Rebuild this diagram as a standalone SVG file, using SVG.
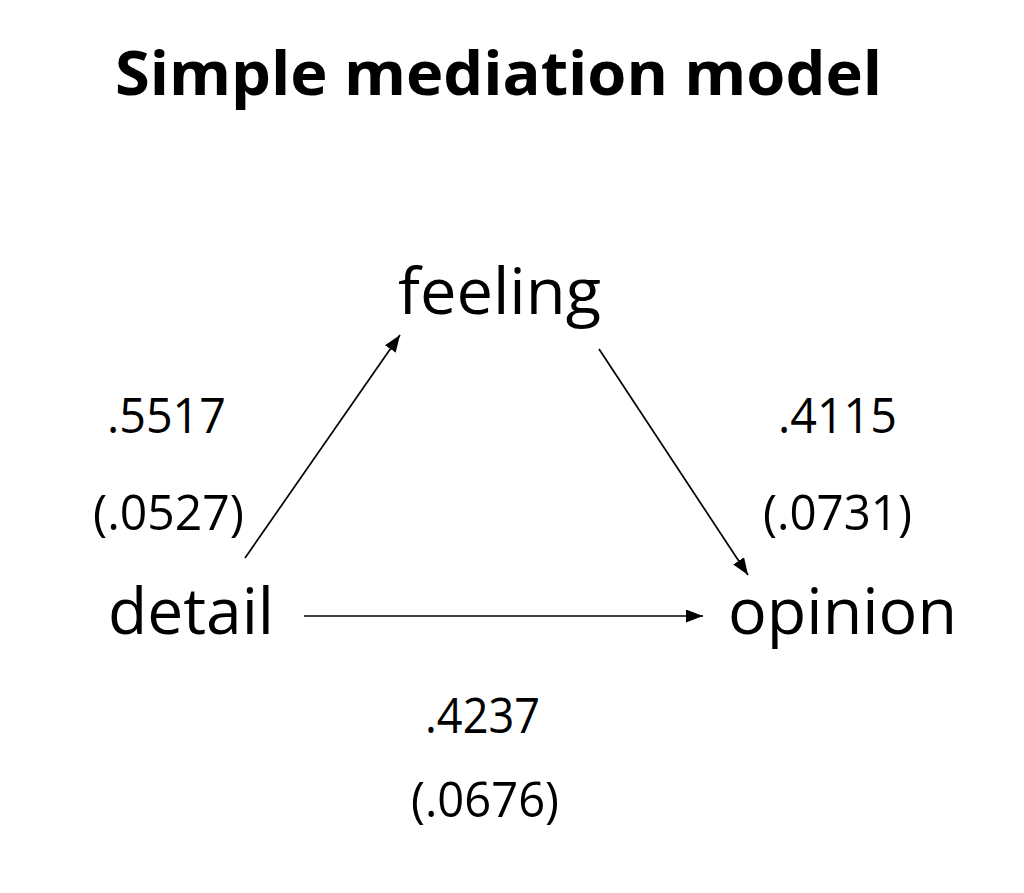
<svg xmlns="http://www.w3.org/2000/svg" width="1024" height="893" viewBox="0 0 1024 893">
<style>
.t{font-family:"Open Sans","Liberation Sans",sans-serif;fill:#000}
.title{font-size:60px;font-weight:bold}
.lbl{font-size:64px}
.num{font-size:49px}
.edge{stroke:#000;stroke-width:1.7;fill:none}
</style>
<defs>
<marker id="a" viewBox="0 0 17 13" refX="17" refY="6.5" markerWidth="17" markerHeight="13" markerUnits="userSpaceOnUse" orient="auto">
<path d="M0,0 L17,6.5 L0,13 Z" fill="#000"/>
</marker>
</defs>
<rect width="1024" height="893" fill="#fff"/>
<text class="t title" x="115" y="95" textLength="767" lengthAdjust="spacingAndGlyphs">Simple mediation model</text>
<g id="connectors">
<line class="edge" x1="245" y1="558" x2="400" y2="335" marker-end="url(#a)"/>
<line class="edge" x1="599" y1="349" x2="748" y2="575" marker-end="url(#a)"/>
<line class="edge" x1="304" y1="616" x2="703" y2="616" marker-end="url(#a)"/>
</g>
<g id="feeling"><text class="t lbl" x="398" y="314" textLength="203" lengthAdjust="spacingAndGlyphs">feeling</text></g>
<g id="detail"><text class="t lbl" x="108" y="634" textLength="166" lengthAdjust="spacingAndGlyphs">detail</text></g>
<g id="opinion"><text class="t lbl" x="728" y="634" textLength="229" lengthAdjust="spacingAndGlyphs">opinion</text></g>
<g id="label-a">
<text class="t num" x="107" y="433" textLength="119" lengthAdjust="spacingAndGlyphs">.5517</text>
<text class="t num" x="93" y="530" textLength="151" lengthAdjust="spacingAndGlyphs">(.0527)</text>
</g>
<g id="label-b">
<text class="t num" x="778" y="433" textLength="119" lengthAdjust="spacingAndGlyphs">.4115</text>
<text class="t num" x="763" y="530" textLength="149" lengthAdjust="spacingAndGlyphs">(.0731)</text>
</g>
<g id="label-c">
<text class="t num" x="425" y="733" textLength="115" lengthAdjust="spacingAndGlyphs">.4237</text>
<text class="t num" x="411" y="817" textLength="148" lengthAdjust="spacingAndGlyphs">(.0676)</text>
</g>
</svg>
